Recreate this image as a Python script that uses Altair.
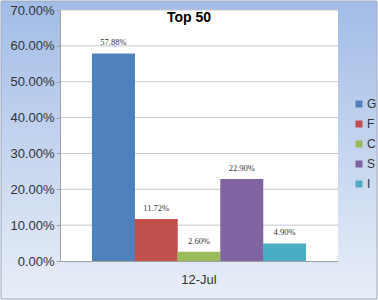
import altair as alt
import pandas as pd

series = ["G", "F", "C", "S", "I"]
values = [0.5788, 0.1172, 0.0260, 0.2290, 0.0490]
labels = ["57.88%", "11.72%", "2.60%", "22.90%", "4.90%"]
colors = ["#4f81bd", "#c0504d", "#9bbb59", "#8064a2", "#4bacc6"]
category = "12-Jul"
grid_values = [0.1, 0.2, 0.3, 0.4, 0.5, 0.6, 0.7]
tick_values = [0, 0.1, 0.2, 0.3, 0.4, 0.5, 0.6, 0.7]

W, H = 278, 251

bars_df = pd.DataFrame({"cat": [category] * 5, "series": series, "value": values, "label": labels})
grid_df = pd.DataFrame({"v": grid_values})

yscale = alt.Scale(domain=[0, 0.7], nice=False)
yaxis = alt.Axis(format=".2%", values=tick_values, labelOverlap=False,
                 title=None, grid=False, labelFontSize=13, labelColor="#333333",
                 labelFont="Liberation Sans", tickSize=4, tickColor="#a0a0a0",
                 domainColor="#a0a0a0", labelPadding=2, zindex=1)

bg = alt.Chart(pd.DataFrame({"a": [0]})).mark_rect(
    fill=alt.Gradient(
        gradient="linear",
        stops=[alt.GradientStop(color="#a2bce6", offset=0),
               alt.GradientStop(color="#e8eef8", offset=1)],
        x1=0, x2=0, y1=0, y2=1,
    ),
    stroke="#9aa8bd", strokeWidth=1,
).encode(x=alt.value(-59), x2=alt.value(317), y=alt.value(-9), y2=alt.value(289))

plot_bg = alt.Chart(pd.DataFrame({"a": [0]})).mark_rect(fill="white").encode(
    x=alt.value(0), x2=alt.value(W), y=alt.value(0), y2=alt.value(H)
)

grid = alt.Chart(grid_df).mark_rule(color="#c8c8c8", strokeWidth=1).encode(
    y=alt.Y("v:Q", scale=yscale, axis=yaxis), x=alt.value(0), x2=alt.value(W)
)

base = alt.Chart(bars_df).encode(
    x=alt.X("cat:N",
            scale=alt.Scale(paddingInner=0, paddingOuter=0.15),
            axis=alt.Axis(title=None, labelFontSize=13, labelColor="#333333", labelAngle=0,
                          labelFont="Liberation Sans", labelPadding=12, ticks=False,
                          domainColor="#a0a0a0", zindex=1)),
    xOffset=alt.XOffset("series:N", sort=series, scale=alt.Scale(paddingInner=0, paddingOuter=0)),
)

bars = base.mark_bar(size=43).encode(
    y=alt.Y("value:Q", scale=yscale, axis=yaxis),
    color=alt.Color("series:N", sort=series,
                    scale=alt.Scale(domain=series, range=colors),
                    legend=alt.Legend(title=None, orient="none", legendX=293, legendY=88,
                                      symbolType="square", symbolSize=49, symbolStrokeWidth=0,
                                      labelFontSize=12, labelColor="#333333",
                                      labelFont="Liberation Sans", rowPadding=8,
                                      labelOffset=2, symbolOffset=0)),
)

text = base.mark_text(dy=-11, fontSize=8.5, font="Liberation Serif", color="#333333").encode(
    y=alt.Y("value:Q", scale=yscale, axis=yaxis), text="label:N"
)

title = alt.Chart(pd.DataFrame({"t": ["Top 50"]})).mark_text(
    fontSize=14, fontWeight="bold", font="Liberation Sans", color="#000000"
).encode(x=alt.value(129), y=alt.value(8), text="t:N")

chart = alt.layer(bg, plot_bg, grid, bars, text, title).properties(
    width=W, height=H,
    autosize=alt.AutoSizeParams(type="none"),
    padding={"left": 60, "top": 10, "right": 40, "bottom": 39},
).configure_view(stroke=None)

chart.save("out.html", embed_options={"renderer": "svg", "actions": False})
